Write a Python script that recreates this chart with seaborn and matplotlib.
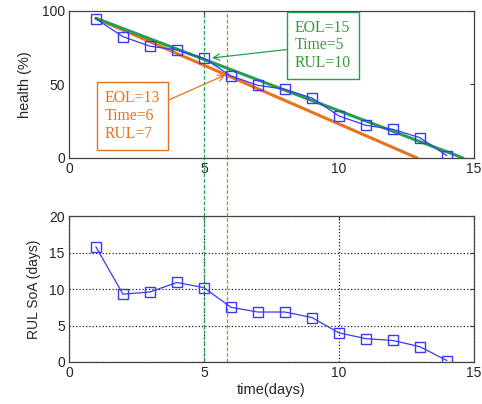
import numpy as np
import pandas as pd
import matplotlib
matplotlib.use("Agg")
import matplotlib.pyplot as plt
from matplotlib.lines import Line2D
import seaborn as sns

days = [1, 2, 3, 4, 5, 6, 7, 8, 9, 10, 11, 12, 13, 14]
health = [94.6, 82.5, 76.0, 73.5, 67.8, 55.8, 49.4, 46.7, 40.8, 28.6, 22.2, 19.5, 13.8, 1.6]
rul = [15.8, 9.3, 9.6, 10.9, 10.2, 7.5, 6.85, 6.85, 6.1, 4.0, 3.2, 2.95, 2.1, 0.2]

fit_green_x = [1, 14.6]
fit_green_y = [95, 0]
fit_orange_x = [1, 12.9]
fit_orange_y = [95, 0]

vline_green = 5.0
vline_orange = 5.85

sns.set_style("white")
plt.rcParams['font.family'] = ['Liberation Sans', 'DejaVu Sans']

blue = '#3a3af5'
green = '#22a050'
orange = '#e8731e'

df = pd.DataFrame({"days": days, "health": health, "rul": rul})

fig = plt.figure(figsize=(4.82, 4.04), dpi=100)
ax1 = fig.add_axes([0.143, 0.609, 0.840, 0.364])
ax2 = fig.add_axes([0.143, 0.104, 0.840, 0.361])

# top
ax1.plot(fit_orange_x, fit_orange_y, color=orange, lw=2.2, zorder=2)
ax1.plot(fit_green_x, fit_green_y, color=green, lw=2.2, zorder=3)
sns.lineplot(data=df, x="days", y="health", ax=ax1, color=blue, lw=0.9,
             marker='s', markersize=7.5, markerfacecolor='none',
             markeredgecolor=blue, markeredgewidth=1.0, zorder=4)

ax1.set_xlim(0, 15)
ax1.set_ylim(0, 100)
ax1.set_xticks([0, 5, 10, 15])
ax1.set_yticks([0, 50, 100])
ax1.set_xlabel("")
ax1.set_ylabel("health (%)", fontsize=10.5, labelpad=7)

ax1.annotate("EOL=15\nTime=5\nRUL=10", xy=(5.3, 68), xytext=(8.37, 76.5),
             fontsize=11.3, family=['Liberation Serif'], color='#3a9a3a',
             ha='left', va='center', linespacing=1.15,
             bbox=dict(boxstyle='square,pad=0.5', fc='white', ec=green, lw=1),
             arrowprops=dict(arrowstyle='->', color=green, lw=0.9,
                             shrinkA=0, shrinkB=0))
ax1.annotate("EOL=13\nTime=6\nRUL=7", xy=(5.8, 56.5), xytext=(1.33, 28.6),
             fontsize=11.3, family=['Liberation Serif'], color=orange,
             ha='left', va='center', linespacing=1.15,
             bbox=dict(boxstyle='square,pad=0.5', fc='white', ec=orange, lw=1),
             arrowprops=dict(arrowstyle='->', color=orange, lw=0.9,
                             shrinkA=0, shrinkB=0))

# bottom
sns.lineplot(data=df, x="days", y="rul", ax=ax2, color=blue, lw=0.9,
             marker='s', markersize=7.5, markerfacecolor='none',
             markeredgecolor=blue, markeredgewidth=1.0, zorder=4)
ax2.set_xlim(0, 15)
ax2.set_ylim(0, 20)
ax2.set_xticks([0, 5, 10, 15])
ax2.set_yticks([0, 5, 10, 15, 20])
ax2.grid(True, linestyle=':', color='#222222', lw=0.9)
ax2.set_axisbelow(True)
ax2.set_xlabel("time(days)", fontsize=10.5, labelpad=2)
ax2.set_ylabel("RUL SoA (days)", fontsize=10, labelpad=6)

for ax in (ax1, ax2):
    ax.tick_params(direction='in', length=3, top=True, right=True,
                   labelsize=10, color='#333333', pad=3)
    for s in ax.spines.values():
        s.set_color('#444444')
        s.set_linewidth(0.9)
    ax.axvline(vline_green, color=green, ls='--', lw=0.9, dashes=(3, 1.5), clip_on=False, zorder=1)
    ax.axvline(vline_orange, color=orange, ls='--', lw=0.9, dashes=(3, 1.5), clip_on=False, zorder=1)

# connect the dashed lines across the gap between the panels
for xv, c in ((vline_green, green), (vline_orange, orange)):
    xf = fig.transFigure.inverted().transform(ax1.transData.transform((xv, 0)))[0]
    fig.add_artist(Line2D([xf, xf], [0.465, 0.609], transform=fig.transFigure,
                          color=c, lw=0.9, ls='--', dashes=(3, 1.5)))

fig.savefig("out.png", dpi=100)
